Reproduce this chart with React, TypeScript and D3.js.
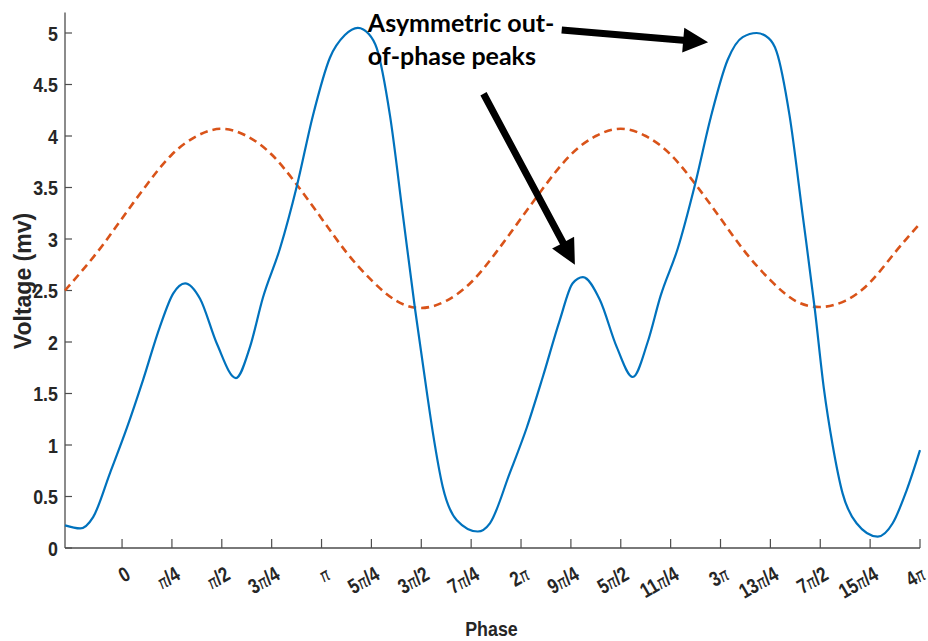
import React from 'react';
import * as d3 from 'd3';

// ---- data (phase in multiples of π, voltage in mV) ----
const bluePhase = [
  -0.286, -0.21, -0.145, -0.06, 0.025, 0.105, 0.19, 0.256, 0.316, 0.391, 0.476, 0.571,
  0.641, 0.706, 0.792, 0.877, 0.957, 1.042, 1.117, 1.182, 1.237, 1.277, 1.343, 1.408,
  1.468, 1.528, 1.558, 1.608, 1.678, 1.783, 1.844, 1.944, 2.029, 2.109, 2.194, 2.259,
  2.31, 2.395, 2.48, 2.56, 2.635, 2.7, 2.786, 2.871, 2.951, 3.036, 3.111, 3.181, 3.241, 3.281,
  3.346, 3.412, 3.472, 3.518, 3.562, 3.612, 3.682, 3.788, 3.863, 3.933, 4.0,
];
const blueVoltage = [
  0.22, 0.19, 0.3, 0.73, 1.17, 1.63, 2.15, 2.47, 2.57, 2.42, 1.98, 1.65,
  1.95, 2.43, 2.91, 3.52, 4.2, 4.76, 4.98, 5.05, 4.99, 4.85, 4.2, 3.23,
  2.33, 1.51, 1.12, 0.59, 0.27, 0.16, 0.24, 0.73, 1.17, 1.66, 2.21, 2.57,
  2.63, 2.41, 1.95, 1.66, 2.0, 2.45, 2.91, 3.52, 4.18, 4.74, 4.96, 5.0, 4.95, 4.82,
  4.2, 3.23, 2.33, 1.55, 1.0, 0.53, 0.24, 0.11, 0.24, 0.56, 0.95,
];
const orangePhase = [
  -0.286, -0.25, -0.125, 0, 0.125, 0.25, 0.375, 0.5, 0.625, 0.75, 0.875, 1.0,
  1.125, 1.25, 1.375, 1.5, 1.625, 1.75, 1.875, 2.0, 2.125, 2.25, 2.375, 2.5,
  2.625, 2.75, 2.875, 3.0, 3.125, 3.25, 3.375, 3.5, 3.625, 3.75, 3.875, 4.0,
];
const orangeVoltage = [
  2.5, 2.58, 2.87, 3.2, 3.53, 3.82, 4.0, 4.07, 4.0, 3.82, 3.53, 3.2,
  2.87, 2.6, 2.4, 2.33, 2.4, 2.58, 2.87, 3.2, 3.53, 3.82, 4.0, 4.07,
  4.0, 3.82, 3.53, 3.2, 2.87, 2.6, 2.4, 2.34, 2.4, 2.58, 2.87, 3.15,
];
const xTickPhase = [0, 0.25, 0.5, 0.75, 1, 1.25, 1.5, 1.75, 2, 2.25, 2.5, 2.75, 3, 3.25, 3.5, 3.75, 4];
const xTickLabels = ['0', 'π/4', 'π/2', '3π/4', 'π', '5π/4', '3π/2', '7π/4', '2π', '9π/4', '5π/2', '11π/4', '3π', '13π/4', '7π/2', '15π/4', '4π'];
const yTicks = [0, 0.5, 1, 1.5, 2, 2.5, 3, 3.5, 4, 4.5, 5];
const yTickLabels = ['0', '0.5', '1', '1.5', '2', '2.5', '3', '3.5', '4', '4.5', '5'];

// annotation positions in data units (phase in π, voltage)
const annotationLines = ['Asymmetric out-', 'of-phase peaks'];
const annotationAnchor = { phase: 1.232, voltage: 5.01 };
const arrows = [
  { from: { phase: 2.204, voltage: 5.03 }, to: { phase: 2.938, voltage: 4.91 } },
  { from: { phase: 1.812, voltage: 4.41 }, to: { phase: 2.27, voltage: 2.75 } },
];

const W = 928;
const H = 641;
const left = 65;
const right = 920;
const bottom = 548;
const top = 12.4;

const font = "'Liberation Sans', Arial, Helvetica, sans-serif";

function arrowPath(x1: number, y1: number, x2: number, y2: number) {
  const dx = x2 - x1;
  const dy = y2 - y1;
  const len = Math.hypot(dx, dy);
  const ux = dx / len;
  const uy = dy / len;
  const nx = -uy;
  const ny = ux;
  const headLen = 25;
  const headW = 12.5;
  const shaftW = 3.5;
  const bx = x2 - ux * headLen;
  const by = y2 - uy * headLen;
  const pts = [
    [x1 + nx * shaftW, y1 + ny * shaftW],
    [bx + nx * shaftW, by + ny * shaftW],
    [bx + nx * headW, by + ny * headW],
    [x2, y2],
    [bx - nx * headW, by - ny * headW],
    [bx - nx * shaftW, by - ny * shaftW],
    [x1 - nx * shaftW, y1 - ny * shaftW],
  ];
  return 'M' + pts.map((p) => p[0].toFixed(1) + ',' + p[1].toFixed(1)).join('L') + 'Z';
}

function piLabel(label: string) {
  const parts = label.split('π');
  const out: React.ReactNode[] = [];
  parts.forEach((p, i) => {
    if (p) out.push(<tspan key={'p' + i}>{p}</tspan>);
    if (i < parts.length - 1)
      out.push(
        <tspan key={'pi' + i} fontWeight="normal" fontStyle="italic" fontFamily="'DejaVu Sans', sans-serif" fontSize={18}>
          π
        </tspan>
      );
  });
  return out;
}

export default function App() {
  const x = d3.scaleLinear().domain([-0.286 * Math.PI, 4 * Math.PI]).range([left, right]);
  const y = d3.scaleLinear().domain([0, 5.2]).range([bottom, top]);

  const blueData = bluePhase.map((p, i) => [p * Math.PI, blueVoltage[i]] as [number, number]);
  const orangeData = orangePhase.map((p, i) => [p * Math.PI, orangeVoltage[i]] as [number, number]);

  const blueLine = d3
    .line<[number, number]>()
    .x((d) => x(d[0]))
    .y((d) => y(d[1]))
    .curve(d3.curveMonotoneX);
  const orangeLine = d3
    .line<[number, number]>()
    .x((d) => x(d[0]))
    .y((d) => y(d[1]))
    .curve(d3.curveNatural);

  const axisColor = '#4d4d4d';

  return (
    <svg width={W} height={H} style={{ position: 'absolute', left: 0, top: 0, background: '#fff' }}>
      <rect x={0} y={0} width={W} height={H} fill="#fff" />
      {/* axes */}
      <line x1={left} x2={left} y1={y(5.2)} y2={bottom} stroke={axisColor} strokeWidth={1.3} />
      <line x1={left} x2={right} y1={bottom} y2={bottom} stroke={axisColor} strokeWidth={1.3} />
      {yTicks.map((t, i) => (
        <g key={'y' + i}>
          <line x1={left} x2={left + 7} y1={y(t)} y2={y(t)} stroke={axisColor} strokeWidth={1.2} />
          <text
            transform={`translate(58,${y(t)}) scale(0.85,1)`}
            textAnchor="end"
            dy="0.36em"
            fontFamily={font}
            fontWeight="bold"
            fontSize={21}
            fill="#262626"
          >
            {yTickLabels[i]}
          </text>
        </g>
      ))}
      {xTickPhase.map((t, i) => (
        <g key={'x' + i}>
          <line x1={x(t * Math.PI)} x2={x(t * Math.PI)} y1={bottom} y2={bottom - 9} stroke={axisColor} strokeWidth={1.2} />
          <text
            transform={`translate(${x(t * Math.PI) + (i === xTickPhase.length - 1 ? 3 : 6)},${bottom + 24}) rotate(-30) scale(0.8,1)`}
            textAnchor="end"
            dy="0.35em"
            fontFamily={font}
            fontWeight="bold"
            fontSize={21}
            fill="#262626"
          >
            {piLabel(xTickLabels[i])}
          </text>
        </g>
      ))}
      {/* axis titles */}
      <text
        transform={`translate(${(left + right) / 2 - 1},636) scale(0.85,1)`}
        textAnchor="middle"
        fontFamily={font}
        fontWeight="bold"
        fontSize={21}
        fill="#262626"
      >
        Phase
      </text>
      <text
        transform={`translate(31,${281}) rotate(-90)`}
        textAnchor="middle"
        fontFamily={font}
        fontWeight="bold"
        fontSize={23}
        fill="#262626"
      >
        Voltage (mv)
      </text>
      {/* series */}
      <path d={orangeLine(orangeData) || ''} fill="none" stroke="#D95319" strokeWidth={2.6} strokeDasharray="8,5" />
      <path d={blueLine(blueData) || ''} fill="none" stroke="#0072BD" strokeWidth={2.2} />
      {/* annotation */}
      <text
        x={x(annotationAnchor.phase * Math.PI)}
        y={y(annotationAnchor.voltage)}
        fontFamily="Lato, 'Open Sans', sans-serif"
        fontWeight="bold"
        fontSize={25}
        fill="#000"
      >
        {annotationLines.map((l, i) => (
          <tspan key={i} x={x(annotationAnchor.phase * Math.PI)} dy={i === 0 ? 0 : 33}>
            {l}
          </tspan>
        ))}
      </text>
      {arrows.map((a, i) => (
        <path
          key={'a' + i}
          d={arrowPath(x(a.from.phase * Math.PI), y(a.from.voltage), x(a.to.phase * Math.PI), y(a.to.voltage))}
          fill="#000"
        />
      ))}
    </svg>
  );
}
